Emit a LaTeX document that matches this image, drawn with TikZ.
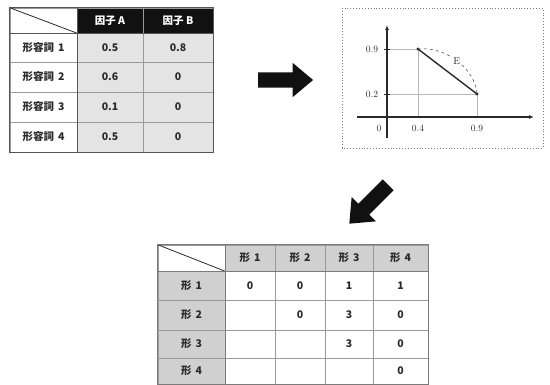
\documentclass[tikz,border=0pt]{standalone}
\usepackage{fontspec}
\newfontfamily\cjk{Noto Sans CJK JP}
\usetikzlibrary{shapes.arrows,arrows.meta}
\definecolor{ink}{HTML}{2A2A2A}
\definecolor{gridgray}{HTML}{9A9A9A}
\definecolor{framegray}{HTML}{555555}
\definecolor{datagray}{HTML}{E4E4E4}
\definecolor{headgray}{HTML}{D0D0D0}
\definecolor{headblack}{HTML}{111111}
% cell from its edges: name, x0, y0, x1, y1, style, text
\newcommand\cellat[7]{%
  \node[cell,#6,minimum width={#4-#2},minimum height={#5-#3}]
    (#1) at ({(#2+#4)/2},{(#3+#5)/2}) {#7};}
\begin{document}
\begin{tikzpicture}[x=1pt,y=-1pt,
  cell/.style={draw=gridgray,line width=0.6pt,inner sep=0pt,text=ink,
    font=\cjk\bfseries\fontsize{10.5}{12}\selectfont},
  white cell/.style={fill=white},
  data cell/.style={fill=datagray},
  black head/.style={fill=headblack,text=white},
  gray head/.style={fill=headgray},
  frame/.style={draw=framegray,line width=1.2pt},
  bigarrow/.style={single arrow,fill=headblack,draw=none,inner sep=7.5pt,
    single arrow head extend=9.5pt,single arrow tip angle=80,minimum height=55pt},
  axis/.style={draw=ink,line width=1.1pt,-{Latex[length=5pt,width=4pt]}},
  guide/.style={draw=gridgray!70,line width=0.5pt},
  dist/.style={draw=ink!80,line width=0.6pt,dashed},
  plotlabel/.style={font=\fontsize{9.5}{11}\selectfont,text=ink,inner sep=1pt},
]
\useasboundingbox (0,0) rectangle (550,385);

% ---------- loadings table ----------
\cellat{tc}{10}{8}{77}{33}{white cell}{}
\draw[ink,line width=0.8pt] (tc.north west) -- (tc.south east);
\cellat{tha}{77}{8}{143}{33}{black head}{因子 A}
\cellat{thb}{143}{8}{213}{33}{black head}{因子 B}
\foreach \i/\ya/\yb/\va/\vb in {1/33/62/0.5/0.8,2/62/92/0.6/0,3/92/122/0.1/0,4/122/152/0.5/0}{
  \cellat{tr\i}{10}{\ya}{77}{\yb}{white cell}{形容詞\hspace{4pt}\i}
  \cellat{ta\i}{77}{\ya}{143}{\yb}{data cell}{\va}
  \cellat{tb\i}{143}{\ya}{213}{\yb}{data cell}{\vb}
}
\draw[frame] (tc.north west) rectangle (tb4.south east);
\draw[frame] (tc.south west) -- (thb.south east);
\draw[frame] (tc.north east) -- (tr4.south east);

% ---------- arrows between panels ----------
\node[bigarrow] (arrR) at (281,80) {};
\node[bigarrow,rotate=225] (arrDL) at (372,201) {};

% ---------- plot ----------
\draw[gridgray!80!black,dotted,line width=0.9pt] (342,8) rectangle (543,148);
\coordinate (O) at (387,117);
\coordinate (A) at (418,49);
\coordinate (B) at (477,94);
\coordinate (yb) at (387,138);
\coordinate (yt) at (387,25);
\coordinate (xl) at (357,117);
\coordinate (xr) at (534,117);
\coordinate (yA) at (387,49);
\coordinate (yB) at (387,94);
\coordinate (xA) at (418,117);
\coordinate (xB) at (477,117);
\draw[guide] (yA) -- (A) -- (xA);
\draw[guide] (yB) -- (B) -- (xB);
\draw[axis] (yb) -- (yt);
\draw[axis] (xl) -- (xr);
\draw[ink,line width=0.6pt] ([xshift=-3pt]yA) -- ([xshift=3pt]yA)
  ([xshift=-3pt]yB) -- ([xshift=3pt]yB);
\draw[ink,line width=1.4pt] (A) -- (B);
\fill[ink] (A) circle (1.6pt) (B) circle (1.6pt);
\draw[dist] (A) .. controls (445,46) and (475,68) .. (B)
  node[pos=0.5,fill=white,inner sep=1pt,text=ink,font=\fontsize{10}{11}\selectfont] (Elab) {E};
\node[plotlabel] (ly1) at (372,49) {0.9};
\node[plotlabel] (ly2) at (372,94) {0.2};
\node[plotlabel] (lx0) at (379,128) {0};
\node[plotlabel] (lx1) at (418,128) {0.4};
\node[plotlabel] (lx2) at (477,128) {0.9};

% ---------- distance table ----------
\cellat{dc}{158}{245}{225}{271}{white cell}{}
\draw[ink,line width=0.8pt] (dc.north west) -- (dc.south east);
\foreach \j/\xa/\xb in {1/225/275,2/275/325,3/325/373,4/373/428}{
  \cellat{dh\j}{\xa}{245}{\xb}{271}{gray head}{形\hspace{4pt}\j}
}
\foreach \i/\ya/\yb/\va/\vb/\vc/\vd in {1/271/300/0/0/1/1,2/300/330//0/3/0,3/330/358///3/0,4/358/384////0}{
  \cellat{dr\i}{158}{\ya}{225}{\yb}{gray head}{形\hspace{4pt}\i}
  \cellat{d\i a}{225}{\ya}{275}{\yb}{white cell}{\va}
  \cellat{d\i b}{275}{\ya}{325}{\yb}{white cell}{\vb}
  \cellat{d\i c}{325}{\ya}{373}{\yb}{white cell}{\vc}
  \cellat{d\i d}{373}{\ya}{428}{\yb}{white cell}{\vd}
}
\draw[frame,draw=gridgray!80!black] (dc.north west) rectangle (d4d.south east);
\draw[frame,draw=gridgray!80!black] (dc.south west) -- (dh4.south east);
\draw[frame,draw=gridgray!80!black] (dc.north east) -- (dr4.south east);
\end{tikzpicture}
\end{document}
